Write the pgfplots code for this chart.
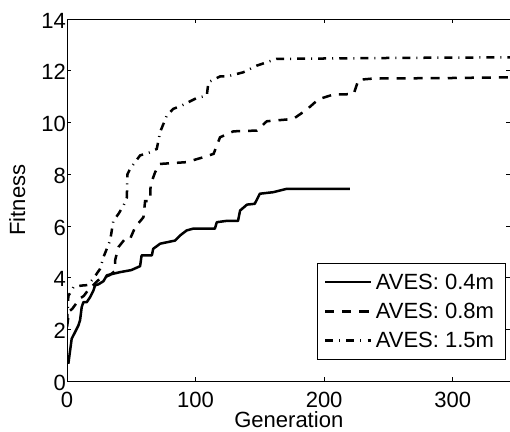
\documentclass[border=0pt]{standalone}
\usepackage{pgfplots}
\pgfplotsset{compat=1.18}
\usepackage{fontspec}
\setmainfont{Liberation Sans}
\newcommand{\ff}{\fontsize{22}{26}\selectfont}
\begin{document}
\begin{tikzpicture}
\begin{axis}[
  scale only axis, width=443pt, height=362pt,
  xmin=0, xmax=345, ymin=0, ymax=14,
  xtick={0,100,200,300}, ytick={0,2,4,6,8,10,12,14},
  tick align=inside, major tick length=4pt,
  axis line style={line width=0.8pt},
  every tick/.style={line width=0.8pt, black},
  /pgf/number format/assume math mode=true,
  tick label style={font=\ff},
  yticklabel style={inner xsep=1pt, yshift=-1.5pt},
  xticklabel style={yshift=-7pt},
  label style={font=\ff},
  xlabel={Generation}, ylabel={Fitness},
  xlabel style={at={(axis description cs:0.5,-0.127)}, anchor=base},
  ylabel style={at={(axis description cs:-0.0948,0.5)}, anchor=base},
  legend image code/.code={\draw[#1] (0pt,0pt) -- (45pt,0pt);},
  legend style={at={(rel axis cs:0.9887,0.0608)}, anchor=south east,
    draw=black, line width=0.8pt, font=\ff,
    inner xsep=7pt, inner ysep=4pt,
    nodes={inner xsep=4pt, inner ysep=6.1pt},
    row sep=0pt},
  legend cell align=left,
]
\coordinate (sw) at (rel axis cs:0,0);
\coordinate (ne) at (rel axis cs:1,1);
\addplot[black, line width=2.5pt, line join=round] coordinates {
(1,0.68) (3.6,1.65) (6.2,1.9) (8.8,2.16) (10.1,2.36) (11.4,2.87) (12.7,3.06)
(15.3,3.06) (17.9,3.25) (20.5,3.51) (21.8,3.71) (24.4,3.75) (28.3,3.87)
(31,4.1) (36,4.16) (41.2,4.22) (50,4.3) (56.8,4.45) (58,4.87) (66,4.87)
(67,5.12) (72.4,5.32) (84,5.44) (88,5.64) (93,5.83) (98,5.9) (115,5.9)
(116.5,6.15) (124,6.2) (133,6.2) (134.6,6.6) (140,6.83) (146,6.86)
(150,7.25) (160.5,7.31) (171,7.44) (220,7.44)
};
\addlegendentry{AVES: 0.4m}
\addplot[black, line width=2.5pt, dash pattern=on 9pt off 8pt] coordinates {
(0,2.1) (1.5,2.7) (4,2.8) (7,3.0) (10,3.2) (13,3.3) (16,3.5) (20,3.7)
(24,3.9) (28,4.0) (33,4.1) (37,4.25) (37.5,4.7) (40,5.19) (45,5.5) (49,5.5)
(53,5.96) (59.4,6.34) (60.7,6.96) (64.6,6.96) (65,7.6) (68.5,8.08) (72,8.4)
(93,8.47) (106,8.66) (114,8.79) (119,9.43) (129.4,9.66) (147.6,9.69)
(155.4,10.05) (176,10.14) (186.5,10.5) (195.6,10.9) (207,11.08) (223,11.1)
(226.7,11.65) (238,11.7) (298,11.72) (345,11.75)
};
\addlegendentry{AVES: 0.8m}
\addplot[black, line width=2.5pt, dash pattern=on 8pt off 6pt on 1pt off 6pt] coordinates {
(0,2.3) (1,3.3) (5,3.64) (11,3.7) (16,3.72) (20.5,3.97) (25.7,4.35)
(28.3,4.8) (33.5,5.44) (36,6.2) (40,6.47) (44,6.8) (46.5,7.1) (47,8.0)
(49,8.21) (56.8,8.73) (64.6,8.85) (69.8,8.98) (72.4,9.63) (77.6,10.27)
(82.7,10.53) (89.3,10.66) (101,10.95) (108.7,11.04) (110,11.56) (119,11.78)
(124.5,11.78) (137,11.94) (147.6,12.2) (155.4,12.33) (163,12.46) (264,12.5)
(345,12.52)
};
\addlegendentry{AVES: 1.5m}
\end{axis}
\pgfresetboundingbox
\path[use as bounding box] ([xshift=-67pt,yshift=-50pt]sw) rectangle ([xshift=-0.5pt,yshift=19pt]ne);
\end{tikzpicture}
\end{document}
